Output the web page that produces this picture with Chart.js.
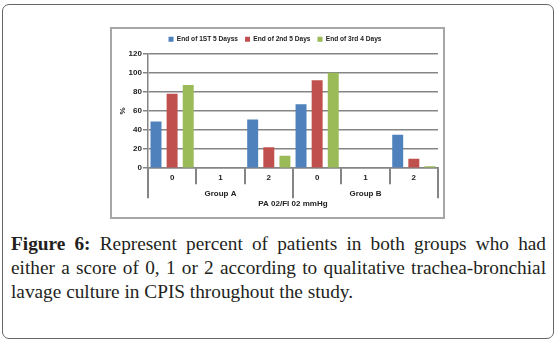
<!DOCTYPE html>
<html>
<head>
<meta charset="utf-8">
<script src="https://cdn.jsdelivr.net/npm/chart.js@4.4.1/dist/chart.umd.min.js"></script>
<style>
  html, body { margin: 0; padding: 0; background: #fff; }
  body { width: 559px; height: 344px; position: relative; overflow: hidden; }
  #frame {
    position: absolute; left: 2px; top: 4px; width: 550px; height: 333px;
    border: 1.5px solid #666; border-radius: 7px;
  }
  #chartBox {
    position: absolute; left: 110px; top: 27px; width: 331px; height: 188px;
    border: 2px solid #a6a6a6;
  }
  #caption {
    position: absolute; left: 11px; top: 232px; width: 535px;
    font-family: "Liberation Serif", "DejaVu Serif", serif; font-size: 19.3px;
    line-height: 24px; color: #231f20; text-align: justify;
  }
  #caption b { font-weight: bold; }
</style>
</head>
<body>
<div id="frame"></div>
<div id="chartBox"><canvas id="chart" width="331" height="188"></canvas></div>
<div id="caption"><b>Figure 6:</b> Represent percent of patients in both groups who had either a score of 0, 1 or 2 according to qualitative trachea-bronchial lavage culture in CPIS throughout the study.</div>
<script>
const categories = ['0', '1', '2', '0', '1', '2'];
const groups = ['Group A', 'Group B'];
const seriesNames = ['End of 1ST 5 Dayss', 'End of 2nd 5 Days', 'End of 3rd 4 Days'];
const firstFive = [49, 0, 51, 67, 0, 35];
const secondFive = [78, 0, 22, 92, 0, 10];
const thirdFour = [87, 0, 13, 100, 0, 2];
const colors = ['#4f81bd', '#c0504d', '#9bbb59'];

const smallFont = { family: 'Liberation Sans', size: 8, weight: 'bold' };
const gridGray = '#858585';

// group name goes under the middle score of each group
const xLabels = categories.map((c, i) => i % 3 === 1 ? [c, groups[Math.floor(i / 3)]] : c);

// separators below the x axis: short between scores, long between groups
const separators = {
  id: 'separators',
  beforeInit(chart) {
    // a touch more room under the legend
    const fit = chart.legend.fit;
    chart.legend.fit = function () {
      fit.bind(chart.legend)();
      this.height += 1;
    };
  },
  afterDraw(chart) {
    const xs = chart.scales.x;
    const c = chart.ctx;
    const step = xs.width / categories.length;
    c.save();
    c.strokeStyle = gridGray;
    c.lineWidth = 2;
    for (let i = 0; i <= categories.length; i++) {
      const px = Math.round(xs.left + i * step);
      const len = i % 3 === 0 ? 30 : 16;
      c.beginPath();
      c.moveTo(px, xs.top);
      c.lineTo(px, xs.top + len);
      c.stroke();
    }
    c.restore();
  }
};

const ctx = document.getElementById('chart').getContext('2d');
const chart = new Chart(ctx, {
  type: 'bar',
  data: {
    labels: xLabels,
    datasets: [firstFive, secondFive, thirdFour].map((vals, i) => ({
      label: seriesNames[i],
      data: vals,
      backgroundColor: colors[i],
      borderWidth: 0,
      barPercentage: 0.68,
      categoryPercentage: 1
    }))
  },
  options: {
    responsive: false,
    animation: false,
    layout: { padding: { top: 0, right: 5, bottom: 8, left: 0 } },
    plugins: {
      tooltip: { enabled: false },
      legend: {
        position: 'top',
        labels: {
          boxWidth: 5, boxHeight: 5, padding: 7,
          color: '#222', font: { family: 'Liberation Sans', size: 6.6, weight: 'bold' }
        }
      }
    },
    scales: {
      y: {
        min: 0, max: 120,
        ticks: { stepSize: 20, color: '#222', font: smallFont, padding: 1 },
        grid: { color: gridGray, lineWidth: 1.5, tickLength: 5 },
        border: { color: gridGray, width: 1.5 },
        title: { display: true, text: '%', color: '#222', font: smallFont, padding: { top: 6, bottom: 0 } }
      },
      x: {
        ticks: { color: '#222', font: { family: 'Liberation Sans', size: 8, weight: 'bold', lineHeight: 1.95 }, padding: 2, maxRotation: 0, autoSkip: false },
        grid: { display: false, drawTicks: false },
        border: { color: gridGray, width: 1.5 },
        title: { display: true, text: 'PA 02/FI 02 mmHg', color: '#222', font: smallFont, padding: { top: -4, bottom: 0 } }
      }
    }
  },
  plugins: [separators]
});
</script>
</body>
</html>
